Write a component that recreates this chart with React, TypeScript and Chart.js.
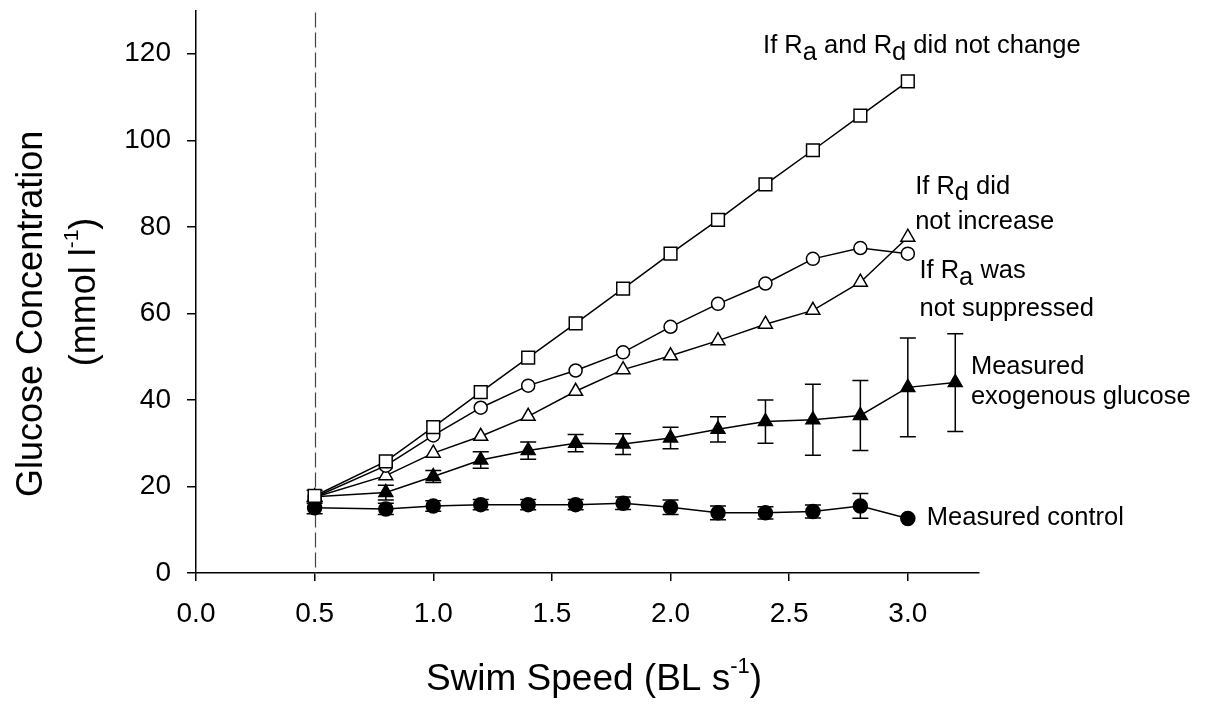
import React, { useEffect, useRef } from "react";
import { Chart, registerables } from "chart.js";

Chart.register(...registerables);

// ---- data ----
const SPEEDS = [0.5, 0.8, 1.0, 1.2, 1.4, 1.6, 1.8, 2.0, 2.2, 2.4, 2.6, 2.8, 3.0];
const SPEEDS_EXO = [0.5, 0.8, 1.0, 1.2, 1.4, 1.6, 1.8, 2.0, 2.2, 2.4, 2.6, 2.8, 3.0, 3.2];
const NO_CHANGE = [17.8, 25.8, 33.7, 41.8, 49.8, 57.7, 65.7, 73.8, 81.6, 89.8, 97.7, 105.7, 113.6];
const RD_NO_INCREASE = [17.5, 24.8, 31.8, 38.2, 43.3, 46.8, 51.0, 56.9, 62.2, 66.9, 72.6, 75.1, 73.8];
const RA_NOT_SUPPRESSED = [17.5, 22.5, 27.7, 31.6, 36.2, 42.0, 47.0, 50.2, 53.7, 57.5, 60.7, 67.2, 77.6];
const EXO = [17.6, 18.6, 22.3, 26.1, 28.3, 30.0, 29.8, 31.2, 33.2, 35.0, 35.4, 36.4, 42.9, 44.0];
const EXO_ERR = [1.5, 1.7, 1.4, 1.9, 2.0, 2.0, 2.4, 2.5, 2.9, 5.0, 8.2, 8.1, 11.4, 11.3];
const CONTROL = [15.1, 14.8, 15.5, 15.8, 15.8, 15.8, 16.1, 15.2, 13.9, 13.9, 14.2, 15.5, 12.6];
const CONTROL_ERR = [1.4, 1.3, 1.2, 1.2, 1.2, 1.2, 1.45, 1.7, 1.6, 1.4, 1.5, 2.85, 0];

const X_TICKS = [0, 0.5, 1.0, 1.5, 2.0, 2.5, 3.0];
const Y_TICKS = [0, 20, 40, 60, 80, 100, 120];
const BASELINE_SPEED = 0.5;

// annotation text pieces: [text, kind] kind: "" normal, "sub" subscript
type Piece = [string, string];
const LABELS: { x: number; y: number; parts: Piece[] }[] = [
  { x: 2.39, y: 120.1, parts: [["If R", ""], ["a", "sub"], [" and R", ""], ["d", "sub"], [" did not change", ""]] },
  { x: 3.031, y: 87.6, parts: [["If R", ""], ["d", "sub"], [" did", ""]] },
  { x: 3.031, y: 79.4, parts: [["not increase", ""]] },
  { x: 3.049, y: 68.1, parts: [["If R", ""], ["a", "sub"], [" was", ""]] },
  { x: 3.049, y: 59.4, parts: [["not suppressed", ""]] },
  { x: 3.266, y: 46.0, parts: [["Measured", ""]] },
  { x: 3.266, y: 39.1, parts: [["exogenous glucose", ""]] },
  { x: 3.08, y: 11.0, parts: [["Measured control", ""]] },
];

const FONT = "'Liberation Sans', Arial, Helvetica, sans-serif";

function pts(xs: number[], ys: number[]) {
  return ys.map((y, i) => ({ x: xs[i], y }));
}

function drawPieces(ctx: CanvasRenderingContext2D, parts: Piece[], x: number, y: number, size: number, subSize: number, shift: number) {
  let cx = x;
  for (const [t, kind] of parts) {
    if (kind === "sub") {
      ctx.font = `${subSize}px ${FONT}`;
      ctx.fillText(t, cx, y + shift);
    } else if (kind === "sup") {
      ctx.font = `${subSize}px ${FONT}`;
      ctx.fillText(t, cx, y - shift);
    } else {
      ctx.font = `${size}px ${FONT}`;
      ctx.fillText(t, cx, y);
    }
    cx += ctx.measureText(t).width;
  }
  return cx - x;
}

function measurePieces(ctx: CanvasRenderingContext2D, parts: Piece[], size: number, subSize: number) {
  let w = 0;
  for (const [t, kind] of parts) {
    ctx.font = `${kind ? subSize : size}px ${FONT}`;
    w += ctx.measureText(t).width;
  }
  return w;
}

const overlayPlugin = {
  id: "overlay",
  beforeDatasetsDraw(chart: any) {
    const ctx: CanvasRenderingContext2D = chart.ctx;
    const xs = chart.scales.x;
    const ys = chart.scales.y;
    const area = chart.chartArea;
    ctx.save();
    // dashed reference line
    ctx.strokeStyle = "#444";
    ctx.lineWidth = 1.2;
    ctx.setLineDash([15, 5]);
    const dx = Math.round(xs.getPixelForValue(BASELINE_SPEED)) + 0.5;
    ctx.beginPath();
    ctx.moveTo(dx, area.top + 2);
    ctx.lineTo(dx, area.bottom);
    ctx.stroke();
    ctx.setLineDash([]);
    // error bars
    ctx.strokeStyle = "#000";
    ctx.lineWidth = 1.5;
    const cap = 8;
    const bars = (xv: number[], yv: number[], ev: number[]) => {
      yv.forEach((v, i) => {
        const e = ev[i];
        if (!e) return;
        const px = xs.getPixelForValue(xv[i]);
        const top = ys.getPixelForValue(v + e);
        const bot = ys.getPixelForValue(v - e);
        ctx.beginPath();
        ctx.moveTo(px, top);
        ctx.lineTo(px, bot);
        ctx.moveTo(px - cap, top);
        ctx.lineTo(px + cap, top);
        ctx.moveTo(px - cap, bot);
        ctx.lineTo(px + cap, bot);
        ctx.stroke();
      });
    };
    bars(SPEEDS_EXO, EXO, EXO_ERR);
    bars(SPEEDS, CONTROL, CONTROL_ERR);
    ctx.restore();
  },
  afterDraw(chart: any) {
    const ctx: CanvasRenderingContext2D = chart.ctx;
    const xs = chart.scales.x;
    const ys = chart.scales.y;
    ctx.save();
    ctx.fillStyle = "#000";
    ctx.textAlign = "left";
    ctx.textBaseline = "alphabetic";
    // annotations
    for (const l of LABELS) {
      drawPieces(ctx, l.parts, xs.getPixelForValue(l.x), ys.getPixelForValue(l.y), 25.5, 25.5, 6.5);
    }
    // x title
    const xt: Piece[] = [["Swim Speed (BL s", ""], ["-1", "sup"], [")", ""]];
    const xw = measurePieces(ctx, xt, 37, 22);
    drawPieces(ctx, xt, 594 - xw / 2, 690, 37, 22, 17);
    // y title line 1
    ctx.save();
    ctx.translate(41.7, 497);
    ctx.rotate(-Math.PI / 2);
    drawPieces(ctx, [["Glucose Concentration", ""]], 0, 0, 36, 21, 17);
    ctx.restore();
    // y title line 2
    const yt: Piece[] = [["(mmol l", ""], ["-1", "sup"], [")", ""]];
    const yw = measurePieces(ctx, yt, 36, 21);
    ctx.save();
    ctx.translate(94.5, 292 + yw / 2);
    ctx.rotate(-Math.PI / 2);
    drawPieces(ctx, yt, 0, 0, 36, 21, 17);
    ctx.restore();
    ctx.restore();
  },
};

export default function App() {
  const ref = useRef<HTMLCanvasElement>(null);
  useEffect(() => {
    const canvas = ref.current!;
    const common = {
      showLine: true,
      borderColor: "#000",
      borderWidth: 1.5,
      pointBorderColor: "#000",
      pointBorderWidth: 1.5,
    };
    const chart = new Chart(canvas, {
      type: "scatter",
      data: {
        datasets: [
          { ...common, label: "If Ra and Rd did not change", data: pts(SPEEDS, NO_CHANGE), pointStyle: "rect", pointRadius: 9, pointBackgroundColor: "#fff" },
          { ...common, label: "If Rd did not increase", data: pts(SPEEDS, RD_NO_INCREASE), pointStyle: "circle", pointRadius: 6.5, pointBackgroundColor: "#fff" },
          { ...common, label: "If Ra was not suppressed", data: pts(SPEEDS, RA_NOT_SUPPRESSED), pointStyle: "triangle", pointRadius: 8, pointBackgroundColor: "#fff" },
          { ...common, label: "Measured exogenous glucose", data: pts(SPEEDS_EXO, EXO), pointStyle: "triangle", pointRadius: 8, pointBackgroundColor: "#000" },
          { ...common, label: "Measured control", data: pts(SPEEDS, CONTROL), pointStyle: "circle", pointRadius: 7, pointBackgroundColor: "#000" },
        ] as any,
      },
      options: {
        animation: false,
        responsive: false,
        devicePixelRatio: 1,
        layout: { padding: { top: 9, right: 234, left: 0, bottom: 0 } },
        plugins: { legend: { display: false }, tooltip: { enabled: false } },
        events: [],
        scales: {
          x: {
            type: "linear",
            position: "bottom",
            min: 0,
            max: 3.3,
            afterBuildTicks: (s: any) => {
              s.ticks = X_TICKS.map((v) => ({ value: v }));
            },
            afterFit: (s: any) => {
              s.height = 133;
              s.paddingLeft = 0;
              s.paddingRight = 0;
            },
            ticks: {
              color: "#000",
              font: { family: FONT, size: 28 },
              padding: 16,
              maxRotation: 0,
              autoSkip: false,
              callback: (v: any) => Number(v).toFixed(1),
            },
            grid: { drawOnChartArea: false, drawTicks: true, tickLength: 8, color: "#000", lineWidth: 1.5 },
            border: { display: true, color: "#000", width: 1.5 },
          },
          y: {
            type: "linear",
            position: "left",
            min: 0,
            max: 130,
            afterBuildTicks: (s: any) => {
              s.ticks = Y_TICKS.map((v) => ({ value: v }));
            },
            afterFit: (s: any) => {
              s.width = 196;
              s.paddingTop = 0;
              s.paddingBottom = 0;
            },
            ticks: {
              color: "#000",
              font: { family: FONT, size: 28 },
              padding: 16,
              autoSkip: false,
              callback: (v: any) => String(v),
            },
            grid: { drawOnChartArea: false, drawTicks: true, tickLength: 9, color: "#000", lineWidth: 1.5 },
            border: { display: true, color: "#000", width: 1.5 },
          },
        },
      } as any,
      plugins: [overlayPlugin],
    });
    return () => chart.destroy();
  }, []);
  return (
    <div style={{ position: "absolute", left: 0, top: 0, width: 1213, height: 706, background: "#fff" }}>
      <canvas ref={ref} width={1213} height={706} style={{ width: 1213, height: 706, display: "block" }} />
    </div>
  );
}
